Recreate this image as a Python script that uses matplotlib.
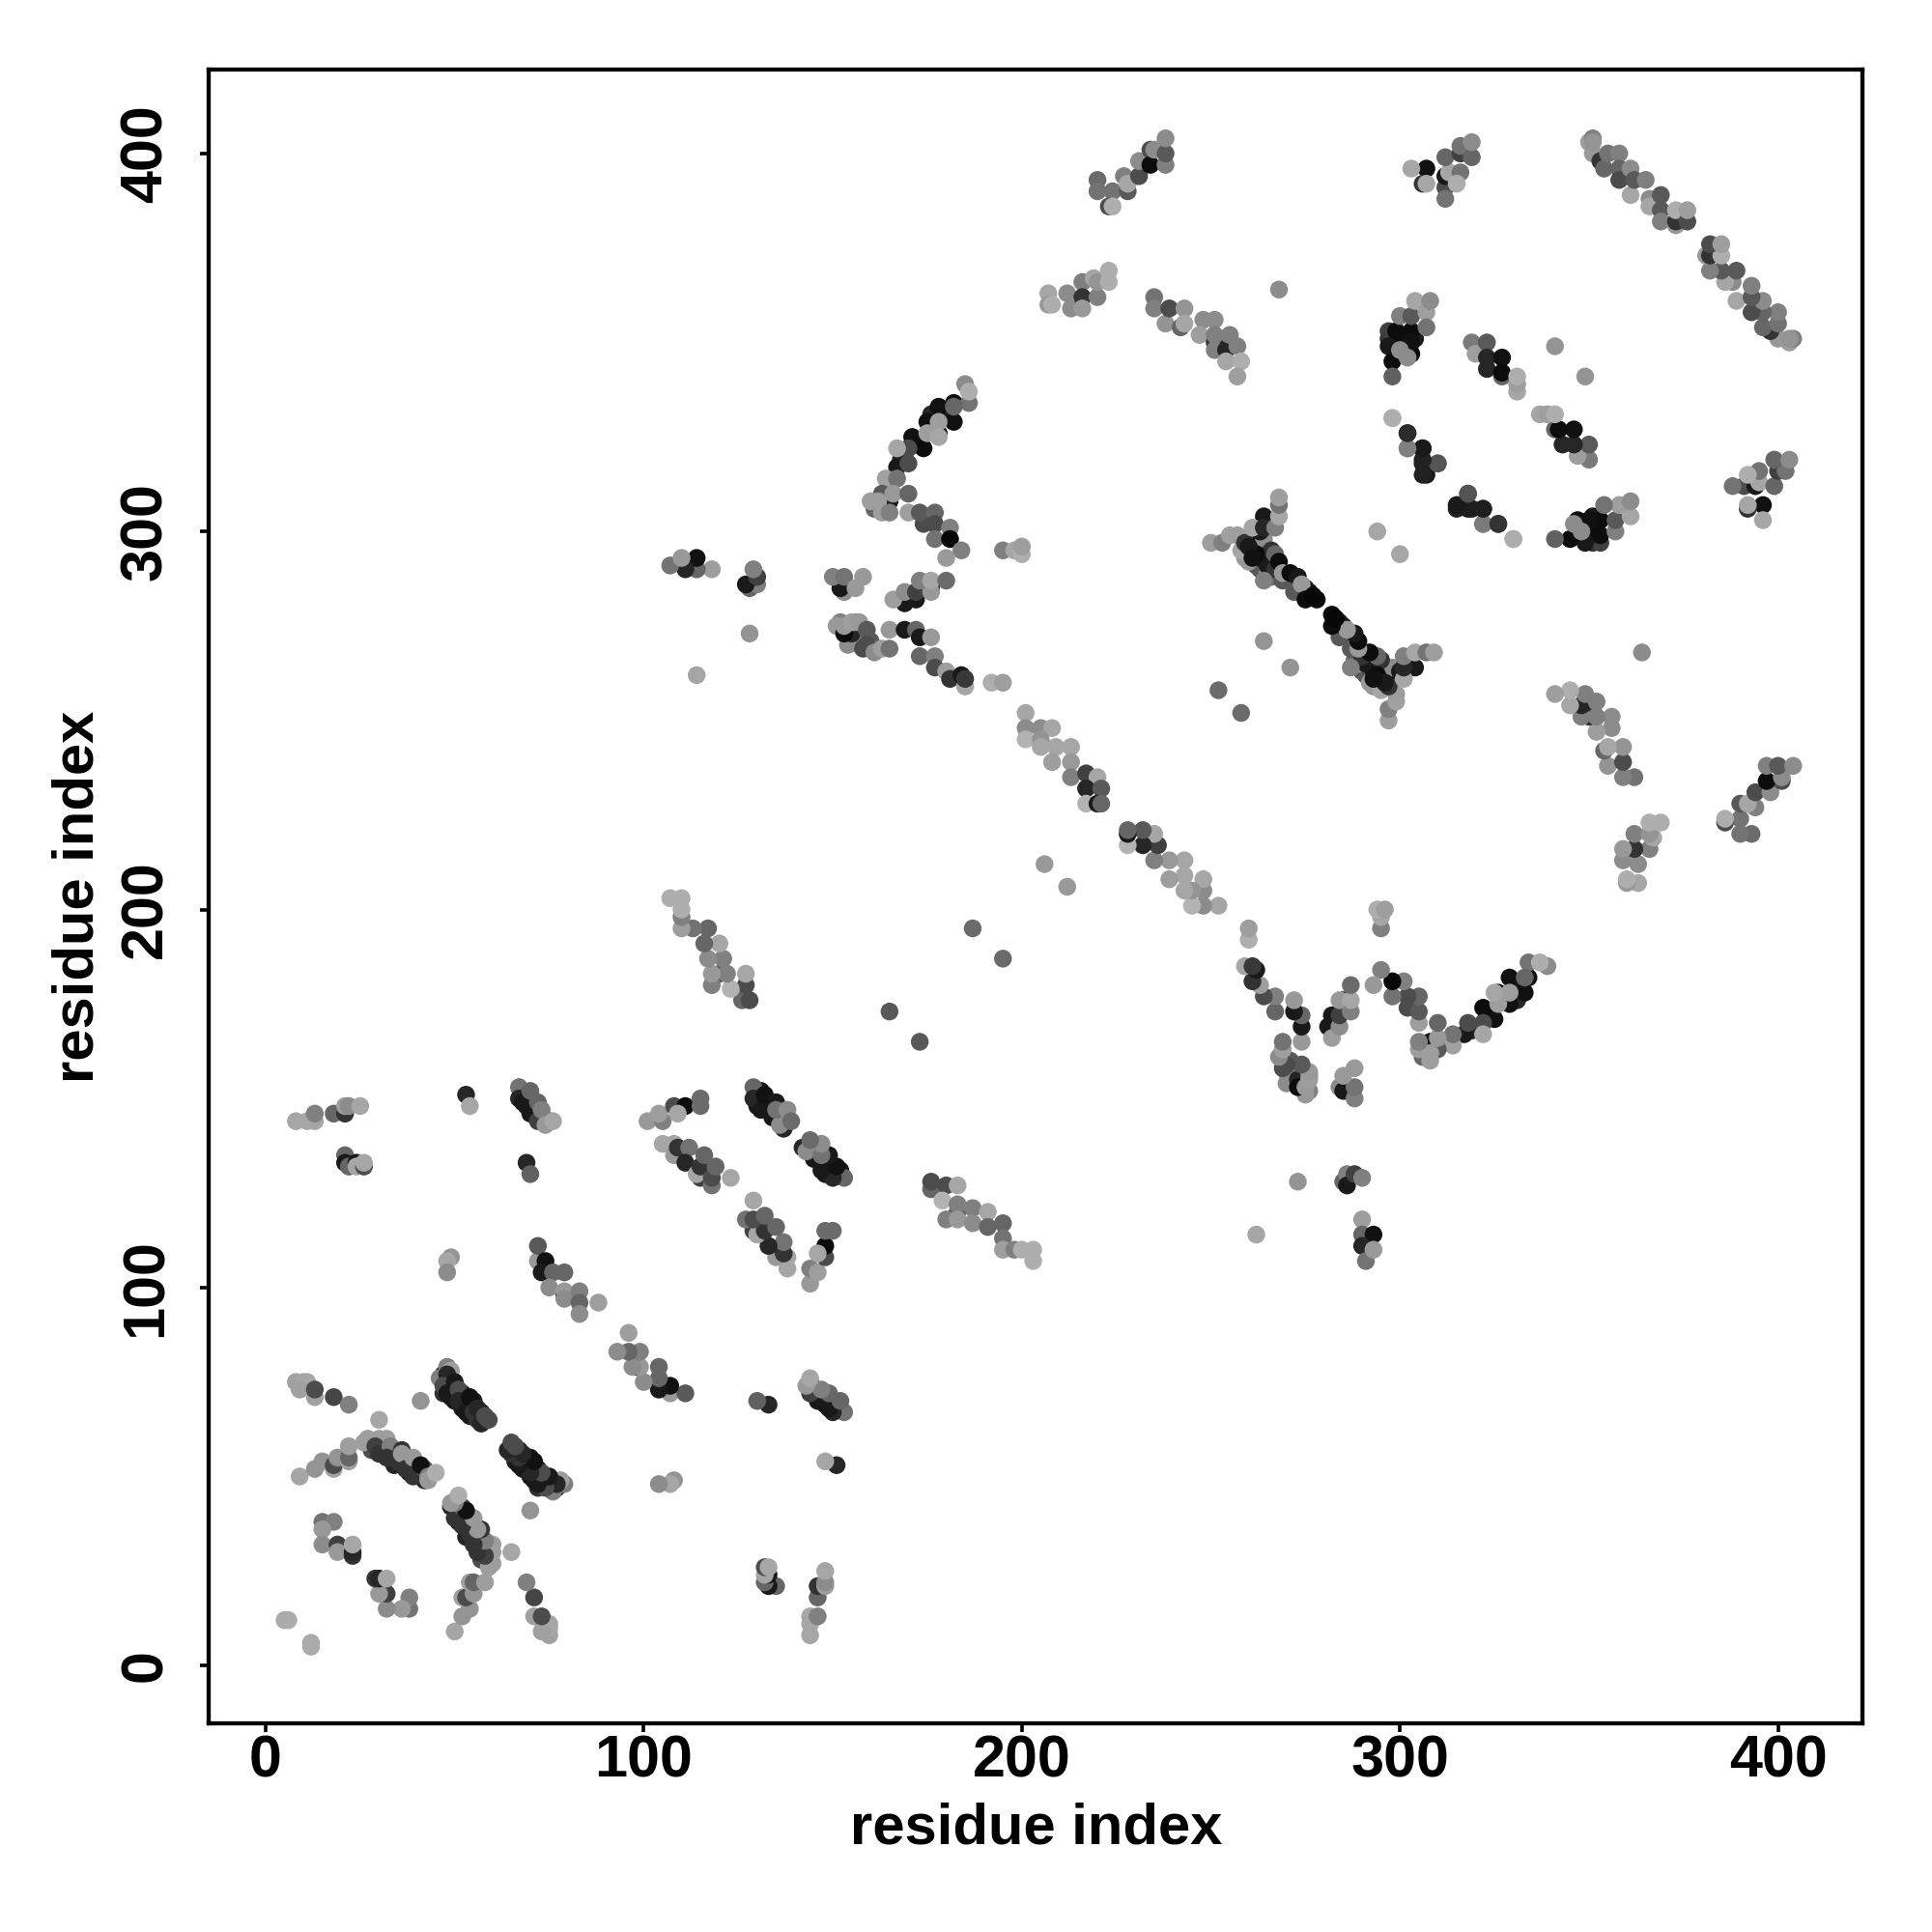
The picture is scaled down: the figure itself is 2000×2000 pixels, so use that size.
import matplotlib
matplotlib.use("Agg")
import matplotlib.pyplot as plt

# contact map, symmetric: only the pairs on one side are listed, the mirror is drawn too
# each entry: residue i, residue j, grey level of the contact

# dark contacts that mostly show as crescents under the lighter ones
under_a = [(47,77,.15),(49,74,.1),(50,73,.05),(52,72,.07),(52,68,.1),(53,69,.15),(54,66,.12),(55,70,.1),
           (56,65,.2),(57,67,.07),(47,72,.2),(31,57,.1),(33,56,.15),(34,56,.1),(37,55,.1),(38,54,.07),
           (40,52,.1),(41,51,.1),(42,49,.15),(38,51,.1),(34,53,.15),(28,57,.3),(68,152,.2),(69,150,.1),
           (70,149,.15),(71,147,.1),(72,146,.07),(73,145,.2),(75,144,.15),(69,148,.1)]
under_b = [(130,151,.1),(131,152,.1),(133,149,.07),(134,147,.05),(133,147,.1),(136,146,.15),(130,148,.1),
           (176,327,.1),(172,324,.1),(180,331,.1),(176,331,.15),(172,323,.05),(168,319,.15),(161,306,.4),
           (163,307,.6),(164,309,.3),(165,312,.5),(163,305,.62),(156,272,.2),(157,270,.5),(160,271,.35),
           (158,272,.45),(156,274,.55),(160,269,.55),(154,270,.55),(155,273,.15),(156,276,.5),(152,276,.5),
           (151,275,.6)]
under_c = [(261,298,.3),(262,296,.1),(263,297,.07),(264,298,.55),(265,294,.3),(266,292,.1),(270,288,.1),
           (272,287,.3),(273,286,.05),(274,284,.1),(276,284,.1),(278,282,.05),(262,291,.3),(263,290,.35),
           (265,289,.55),(266,288,.4),(265,291,.1),(267,290,.2),(263,293,.1),(266,295,.2),(262,294,.05),
           (260,292,.6),(259,293,.6),(258,295,.65),(297,351,.2),(299,351,.05),(301,351,.05),(301,349,.05),
           (299,347,.07),(301,347,.1),(304,351,.1),(303,347,.05)]

low_left = [(5,12,.67),(6,12,.67),(15,38,.45),(18,38,.5),(15,36,.6),(15,32,.55),(19,32,.25),(19,30,.6),
            (23,29,.2),(23,30,.15),(23,32,.65)]
strand_b = [(9,50,.65),(13,52,.58),(15,54,.58),(18,52,.63),(18,53,.3),(19,55,.58),(22,54,.63),(22,55,.4),
            (22,58,.62),(26,59,.62),(27,60,.62),(30,65,.65),(30,60,.62),(32,60,.62),(29,58,.25),(30,56,.2),
            (33,58,.5),(32,55,.2),(36,57,.2),(35,54,.2),(36,56,.6),(37,52,.2),(39,55,.6),(39,50,.2),
            (42,52,.35),(41,53,.07),(43,50,.5),(43,49,.6),(45,51,.68)]
strand_c = [(46,76,.5),(48,79,.5),(49,78,.62),(48,77,.15),(47,74,.3),(48,72,.1),(49,71,.1),(50,70,.1),
            (50,75,.1),(51,73,.3),(51,70,.15),(53,67,.1),(54,71,.07),(55,67,.2),(56,68,.15),(57,64,.15),
            (58,66,.3),(59,65,.3)]
strand_d = [(8,75,.63),(10,75,.65),(11,75,.65),(9,73,.63),(13,71,.63),(13,73,.3),(18,71,.27),(22,69,.5),
            (41,70,.58)]
row_144 = [(8,144,.65),(11,144,.65),(13,144,.65),(13,146,.5),(18,146,.4),(21,146,.2),(21,148,.62),
           (22,148,.55),(25,148,.65),(21,135,.4),(21,133,.1),(22,132,.4),(24,133,.1),(24,132,.65),
           (26,132,.3),(26,133,.65),(53,151,.15),(54,148,.65)]
strand_e = [(67,153,.45),(67,150,.15),(68,149,.1),(70,152,.4),(70,146,.1),(72,149,.4),(72,144,.25),
            (73,147,.5),(74,143,.6),(76,144,.65),(69,133,.15),(70,130,.38)]
strand_f = [(72,107,.6),(72,111,.35),(74,107,.07),(73,104,.1),(76,104,.4),(79,104,.4),(75,100,.55),
            (79,98,.1),(79,99,.6),(79,97,.55),(83,99,.5),(83,96,.4),(83,93,.55),(88,96,.62),
            (49,108,.58),(48,107,.65),(48,104,.55)]
strand_g = [(101,144,.6),(105,144,.5),(104,146,.62),(108,148,.3),(111,148,.05),(109,146,.65),
            (115,150,.42),(115,148,.42),(129,153,.4),(129,150,.15),(131,147,.1),(132,151,.07),
            (134,145,.1),(135,149,.1),(137,142,.15),(136,143,.55),(135,147,.45),(138,147,.55),(139,144,.42)]
strand_h = [(105,138,.65),(108,138,.65),(108,135,.6),(109,137,.2),(112,137,.45),(111,133,.15),(115,129,.25),
            (114,130,.65),(115,132,.2),(116,135,.4),(118,127,.45),(118,129,.3),(119,132,.4),(123,129,.65)]
strand_i = [(176,126,.4),(176,128,.3),(180,127,.3),(183,127,.65),(179,123,.7),(183,120,.35),(183,122,.5),
            (180,118,.5),(183,118,.6),(187,121,.5),(187,117,.55),(191,120,.65),(191,116,.4),(195,117,.4),
            (195,113,.45),(195,110,.62),(198,110,.5),(200,110,.68),(203,107,.68),(203,110,.68)]
far_pairs = [(262,114,.65),(273,128,.58),(285,128,.4),(286,130,.5),(286,127,.1),(288,130,.25),(290,129,.5),
             (290,118,.62),(290,114,.4),(293,114,.07),(290,111,.15),(291,107,.45),(293,110,.6)]
arc_top = [(182,334,.07),(178,333,.07),(175,329,.07),(171,325,.07),(174,322,.05),(167,317,.1),(178,326,.1),
           (182,329,.07),(185,339,.55),(186,334,.45),(186,337,.68),(182,333,.4),(178,329,.62),(175,326,.62),
           (178,325,.65),(170,322,.3),(167,322,.65),(170,318,.3)]
arc_mid = [(165,308,.1),(164,314,.63),(167,314,.45),(163,310,.35),(160,308,.62),(162,308,.62),(166,310,.6),
           (170,310,.4),(165,305,.5),(170,305,.62),(174,302,.3),(173,305,.35),(177,305,.4),(177,302,.3),
           (181,301,.5),(177,298,.45),(181,298,.03),(184,295,.5),(180,293,.6),(195,295,.5),(198,295,.65),
           (200,294,.68),(200,296,.62)]
arc_low = [(153,284,.55),(152,285,.1),(150,288,.5),(153,288,.45),(156,285,.6),(158,288,.6),(169,281,.1),
           (172,282,.1),(166,282,.62),(169,284,.55),(172,284,.25),(176,285,.2),(176,284,.6),(173,287,.5),
           (176,287,.65),(180,287,.42)]
row_274 = [(153,273,.05),(153,275,.6),(155,276,.62),(157,276,.6),(159,274,.35),(158,269,.3),(159,270,.3),
           (161,268,.55),(163,269,.62),(165,269,.45),(165,274,.6),(169,274,.1),(172,274,.4),(173,272,.1),
           (176,272,.6),(173,267,.4),(177,267,.5),(177,264,.3),(180,263,.62),(181,261,.2),(185,259,.65),
           (184,262,.1),(185,261,.22),(192,260,.68),(195,260,.62)]
diagonal = [(201,252,.65),(201,248,.55),(201,245,.7),(205,248,.55),(208,248,.65),(205,245,.58),(205,243,.65),
            (209,243,.65),(213,243,.65),(208,239,.62),(213,239,.6),(213,235,.5),(217,236,.25),(220,235,.65),
            (217,232,.15),(221,232,.35),(217,228,.7),(220,228,.1),(221,228,.4)]
singles = [(165,173,.35),(187,195,.42),(206,212,.6),(252,258,.42),(264,271,.58),(268,364,.55),(294,300,.65),
           (341,349,.58)]
v_shape = [(250,297,.62),(253,297,.5),(255,299,.63),(257,299,.62),(259,297,.2),(260,296,.1),(261,293,.07),
           (263,300,.1),(264,304,.1),(261,301,.65),(264,301,.15),(267,301,.5),(268,304,.65),(268,307,.45),
           (268,309,.62),(264,287,.5),(267,294,.4),(268,292,.05),(269,287,.35),(269,289,.6),(271,289,.05),
           (273,288,.1),(272,284,.35),(275,285,.1),(274,286,.6),(275,282,.05),(277,283,.03)]
top_a = [(220,393,.42),(220,390,.45),(224,390,.45),(223,386,.3),(224,386,.68),(228,390,.35),(227,394,.5),
         (228,392,.65),(231,394,.3),(231,398,.55),(234,401,.3),(234,397,.05),(235,401,.55),(238,397,.5),
         (238,400,.35),(238,404,.55)]
top_b = [(207,363,.65),(207,360,.6),(208,360,.68),(212,363,.55),(213,359,.55),(216,366,.5),(216,362,.2),
         (216,359,.6),(220,362,.5),(219,367,.65),(220,366,.58),(223,369,.68),(223,366,.68)]
top_c = [(235,362,.45),(235,359,.5),(238,355,.58),(239,359,.3),(243,359,.58),(242,354,.4),(243,355,.65),
         (248,356,.55),(251,356,.55),(247,352,.62),(251,350,.2),(251,352,.5),(251,348,.5),(254,348,.15),
         (255,352,.5),(257,349,.5),(254,345,.65),(258,345,.68),(257,341,.62)]
top_d = [(307,396,.07),(306,392,.2),(303,396,.65),(307,392,.65),(312,391,.3),(312,388,.45),(312,394,.1),
         (313,395,.65),(312,399,.4),(316,400,.25),(316,402,.45),(319,399,.4),(319,403,.55),(316,395,.45),
         (315,392,.68)]
anti_long = [(350,403,.62),(351,404,.5),(351,400,.6),(351,403,.58),(353,398,.2),(354,396,.4),(355,400,.45),
             (358,400,.5),(358,396,.4),(358,393,.3),(361,396,.55),(361,389,.65),(362,393,.35),(365,393,.5),
             (366,388,.55),(366,386,.65),(369,389,.35),(369,385,.35),(369,382,.5),(373,381,.6),(373,382,.2),
             (373,385,.68),(376,382,.3),(376,385,.62)]
left_b = [(297,353,.25),(299,353,.05),(303,353,.05),(303,350,.07),(297,349,.1),(298,345,.05),(298,341,.38),
          (300,357,.5),(300,348,.55),(302,346,.55),(303,357,.35),(304,361,.65),(307,358,.62),(308,361,.55),
          (307,354,.45)]
left_c = [(319,350,.48),(320,347,.62),(323,350,.35),(323,346,.15),(323,343,.15),(327,346,.07),(327,341,.4),
          (327,342,.05),(331,337,.65),(331,339,.62),(331,341,.68)]
left_d = [(298,330,.68),(302,322,.48),(302,326,.2),(306,322,.12),(306,318,.12),(307,315,.1),(310,318,.33)]
left_e = [(318,310,.33),(315,306,.13),(319,306,.13),(322,306,.1),(322,302,.5),(326,302,.17),(330,298,.68)]

groups = [under_a, under_b, under_c, low_left, strand_b, strand_c, strand_d, row_144, strand_e, strand_f,
          strand_g, strand_h, strand_i, far_pairs, arc_top, arc_mid, arc_low, row_274, diagonal, singles,
          v_shape, top_a, top_b, top_c, top_d, anti_long, left_b, left_c, left_d, left_e]

tick_vals = [0, 100, 200, 300, 400]

i_vals = []
j_vals = []
grey = []
for g in groups:
    for a, b, c in g:
        i_vals.append(a)
        j_vals.append(b)
        grey.append(c)

plt.rcParams['font.family'] = ['Liberation Sans', 'DejaVu Sans']
plt.rcParams['font.weight'] = 'bold'

fig = plt.figure(figsize=(20, 20), dpi=100)
ax = fig.add_axes([216.3/2000, 1-1784/2000, 1712/2000, 1712/2000])

# both halves of the map
ax.scatter(i_vals + j_vals, j_vals + i_vals, c=grey + grey, cmap='gray', vmin=0, vmax=1,
           s=176, linewidths=0)

ax.set_xlim(-15.0, 422.4)
ax.set_ylim(-15.3, 422.2)
ax.set_xticks(tick_vals)
ax.set_yticks(tick_vals)
ax.tick_params(axis='x', length=6.5, width=2.6, labelsize=44, pad=2)
ax.tick_params(axis='y', length=6.5, width=2.6, labelsize=44, pad=19.5)
for lab in ax.get_yticklabels():
    lab.set_rotation(90)
    lab.set_va('center')
for s in ax.spines.values():
    s.set_linewidth(3.1)

ax.set_xlabel('residue index', fontsize=43, fontweight='bold')
ax.set_ylabel('residue index', fontsize=43, fontweight='bold')
ax.xaxis.set_label_coords(0.5, -0.0636)
ax.yaxis.set_label_coords(-0.0793, 0.5)
ax.xaxis.label.set_va('center')
ax.yaxis.label.set_va('center')

fig.savefig('out.png', dpi=100)
